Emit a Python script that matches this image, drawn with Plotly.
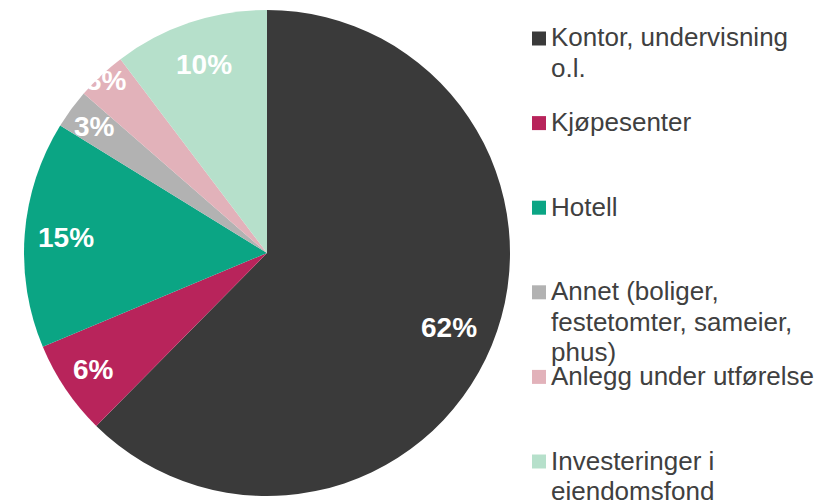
import math
import plotly.graph_objects as go

# ---- data ----
categories = [
    "Kontor, undervisning<br>o.l.",
    "Kjøpesenter",
    "Hotell",
    "Annet (boliger,<br>festetomter, sameier,<br>phus)",
    "Anlegg under utførelse",
    "Investeringer i<br>eiendomsfond",
]
shares = [62.4, 6.3, 15.1, 2.6, 3.3, 10.3]

# ---- style ----
colors = ["#3a3a3a", "#b8245b", "#0ba584", "#b2b2b2", "#e2b2ba", "#b6e0cb"]
label_radius = [0.81, 0.86, 0.83, 0.88, 0.97, 0.82]
W, H = 825, 500
cx, cy, R = 267.0, 253.0, 243.0   # pie centre / radius in pixels
dom_x = [(cx - R) / W, (cx + R) / W]
dom_y = [(H - (cy + R)) / H, (H - (cy - R)) / H]

fig = go.Figure(go.Pie(
    labels=[c.replace("<br>", " ") for c in categories],
    values=shares,
    sort=False,
    direction="clockwise",
    rotation=0,
    marker=dict(colors=colors, line=dict(width=0)),
    textinfo="none",
    hoverinfo="label+percent",
    showlegend=False,
    domain=dict(x=dom_x, y=dom_y),
))

# percentage labels, placed from the cumulative shares
total = sum(shares)
cum = 0.0
annotations = []
for v, rf in zip(shares, label_radius):
    mid = (cum + v / 2) / total * 2 * math.pi
    cum += v
    px = cx + rf * R * math.sin(mid)
    py = cy - rf * R * math.cos(mid)
    annotations.append(dict(
        x=px / W, y=1 - py / H, xref="paper", yref="paper",
        text=f"{round(v / total * 100)}%", showarrow=False,
        font=dict(family="Liberation Sans, Arial", size=28, color="white", weight="bold"),
        xanchor="center", yanchor="middle",
    ))

# legend (Excel-style evenly spaced slots)
shapes = []
slot0, slot = 38.5, 84.6
line_h = 30.5
for i, (name, col) in enumerate(zip(categories, colors)):
    yc = slot0 + i * slot
    shapes.append(dict(type="rect", xref="paper", yref="paper",
                       x0=532 / W, x1=546 / W, y0=1 - (yc - 7) / H, y1=1 - (yc + 7) / H,
                       fillcolor=col, line=dict(width=0)))
    for j, line in enumerate(name.split("<br>")):
        ly = yc + j * line_h - 1
        annotations.append(dict(
            x=549 / W, y=1 - ly / H, xref="paper", yref="paper",
            text=line, showarrow=False, xanchor="left", yanchor="middle",
            font=dict(family="Liberation Sans, Arial", size=26, color="#404040"),
        ))

fig.update_layout(
    width=W, height=H,
    margin=dict(l=0, r=0, t=0, b=0),
    paper_bgcolor="white",
    plot_bgcolor="white",
    annotations=annotations,
    shapes=shapes,
)
fig.write_html("out.html", config={"displayModeBar": False},
               post_script="document.body.style.margin='0';")
